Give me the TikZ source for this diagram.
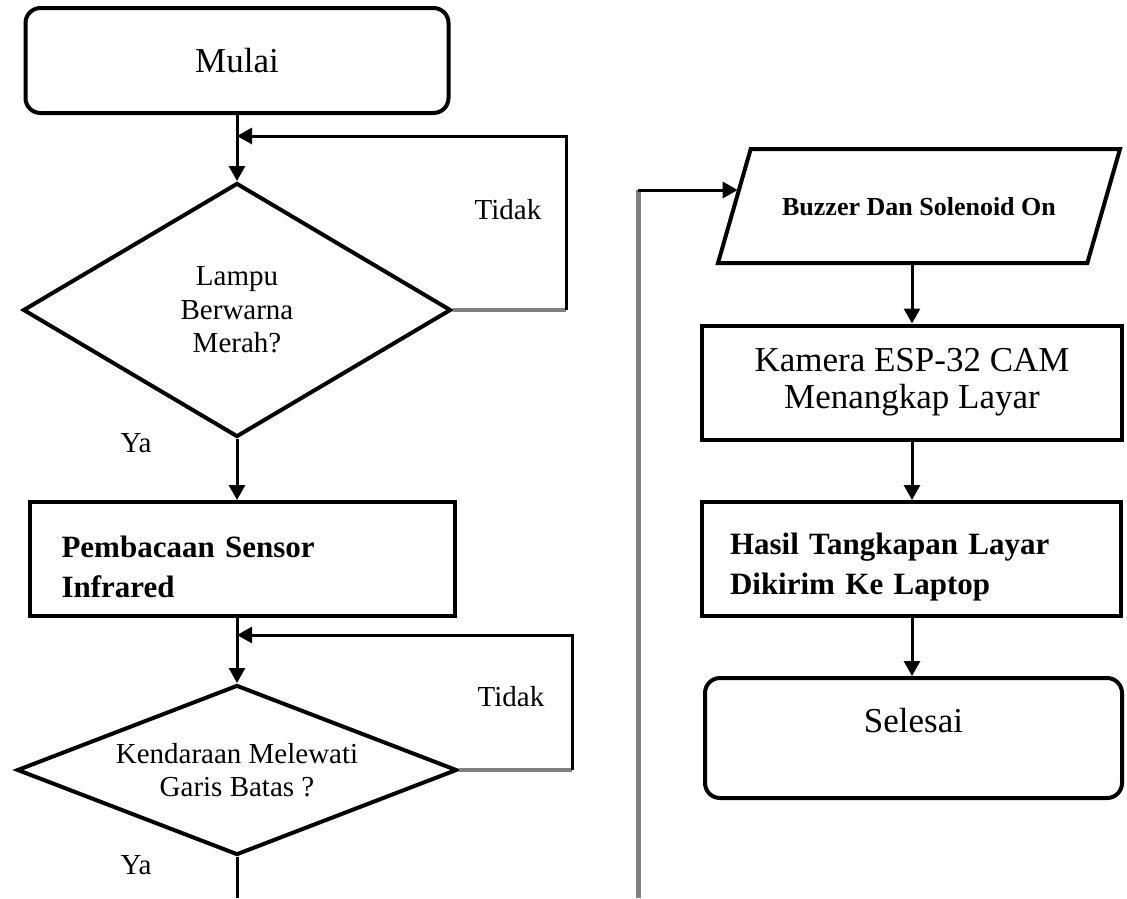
\documentclass[tikz,border=0pt]{standalone}
\usepackage{fontspec}
\setmainfont{Liberation Serif}
\usetikzlibrary{shapes.geometric,arrows.meta}

\begin{document}
\begin{tikzpicture}[x=1pt, y=-1pt,
    terminalStyle/.style={rectangle, draw, line width=4pt, rounded corners=15pt, inner sep=0pt, font=\fontsize{35}{40}\selectfont},
    processStyle/.style={rectangle, draw, line width=4pt, minimum width=420pt, minimum height=114pt, inner sep=0pt, align=center, font=\fontsize{35}{37}\selectfont},
    boldProcessStyle/.style={rectangle, draw, line width=4pt, minimum height=114pt, inner ysep=0pt, align=left, font=\fontsize{31}{40}\selectfont\bfseries},
    decisionStyle/.style={diamond, draw, line width=4pt, inner sep=0pt, align=center, font=\fontsize{29}{33.5}\selectfont},
    ioStyle/.style={trapezium, trapezium left angle=74, trapezium right angle=106, trapezium stretches body=true, draw, line width=4pt, minimum width=402pt, text height=18pt, text depth=0pt, inner xsep=0pt, inner ysep=48pt, font=\fontsize{26}{30}\selectfont\bfseries},
    labelStyle/.style={inner sep=0pt, font=\fontsize{29}{33}\selectfont},
    lineStyle/.style={line width=3pt},
    arrowStyle/.style={line width=3pt, -{Triangle[length=15pt,width=16pt]}},
    grayStyle/.style={line width=4pt, draw=black!50}]
    \useasboundingbox (0,0) rectangle (1127,898);

    \node[terminalStyle, minimum width=423pt, minimum height=105pt]                  (flow_start)  at (237,   60.5) {Mulai};
    \node[decisionStyle, aspect=1.69, minimum width=428pt, minimum height=254pt]     (flow_lampu)  at (237,  310)   {Lampu\\Berwarna\\Merah?};
    \node[boldProcessStyle, minimum width=425pt, text width=361pt, inner xsep=32pt]  (flow_sensor) at (242,  559)   {\rule{0pt}{37pt}Pembacaan Sensor\\Infrared};
    \node[decisionStyle, aspect=2.6, minimum width=440pt, minimum height=170pt]      (flow_garis)  at (237,  770)   {Kendaraan Melewati\\Garis Batas ?};

    \node[ioStyle]                                                                   (flow_buzzer) at (919,  206)   {Buzzer Dan Solenoid On};
    \node[processStyle]                                                              (flow_kamera) at (912,  382.5) {Kamera ESP-32 CAM\\Menangkap Layar};
    \node[boldProcessStyle, minimum width=419pt, text width=363pt, inner xsep=28pt]  (flow_hasil)  at (911.5, 559)  {\rule{0pt}{37pt}Hasil Tangkapan Layar\\Dikirim Ke Laptop};
    \node[terminalStyle, minimum width=417pt, minimum height=120pt, text depth=36pt] (flow_end)    at (913.5, 738)  {Selesai};

    \node[labelStyle] (flow_tidakA) at (508, 210) {Tidak};
    \node[labelStyle] (flow_yaA)    at (136, 443) {Ya};
    \node[labelStyle] (flow_tidakB) at (511, 697) {Tidak};
    \node[labelStyle] (flow_yaB)    at (136, 865) {Ya};

    \coordinate (flow_loopA)     at (566, 136);
    \coordinate (flow_loopB)     at (572, 635);
    \coordinate (flow_exitYa)    at (237, 898);
    \coordinate (flow_busBottom) at (638, 898);
    \coordinate (flow_busTop)    at (638, 190);

    \draw[arrowStyle] (flow_start.south) -- (flow_lampu.north);
    \draw[arrowStyle] (flow_lampu.south) -- (flow_lampu.south |- flow_sensor.north);
    \draw[arrowStyle] (flow_lampu.south |- flow_sensor.south) -- (flow_garis.north);
    \draw[lineStyle]  (flow_garis.south) -- (flow_exitYa);

    \draw[grayStyle]  (flow_lampu.east) -- (flow_lampu.east -| flow_loopA);
    \draw[arrowStyle] (flow_lampu.east -| flow_loopA) -- (flow_loopA) -- (flow_loopA -| flow_start.south);
    \draw[grayStyle]  (flow_garis.east) -- (flow_garis.east -| flow_loopB);
    \draw[arrowStyle] (flow_garis.east -| flow_loopB) -- (flow_loopB) -- (flow_loopB -| flow_start.south);

    \draw[grayStyle, line width=5pt] (flow_busBottom) -- (flow_busTop);
    \draw[arrowStyle] (flow_busTop) -- (flow_busTop -| flow_buzzer.174);

    \draw[arrowStyle] (flow_kamera.north |- flow_buzzer.south) -- (flow_kamera.north);
    \draw[arrowStyle] (flow_kamera.south) -- (flow_kamera.south |- flow_hasil.north);
    \draw[arrowStyle] (flow_kamera.south |- flow_hasil.south) -- (flow_kamera.south |- flow_end.north);
\end{tikzpicture}
\end{document}
